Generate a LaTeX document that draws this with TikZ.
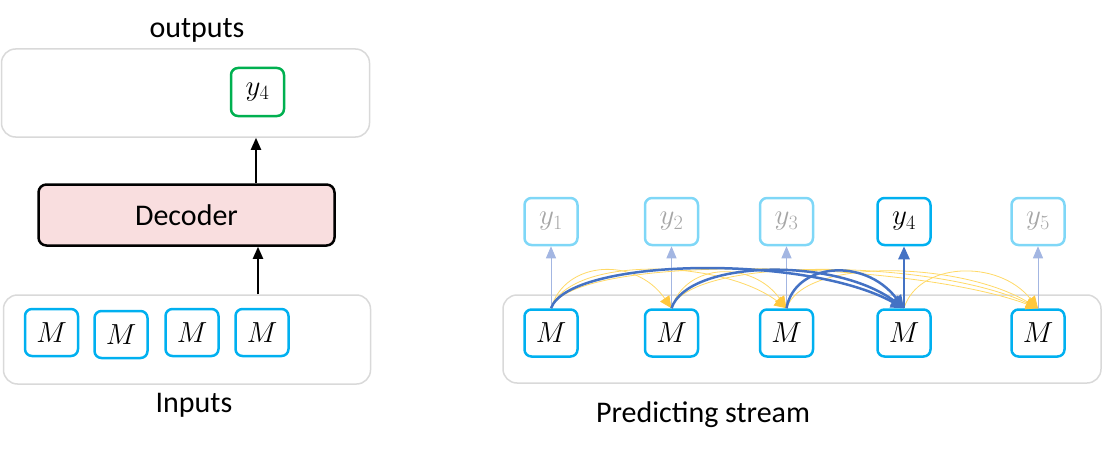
\RequirePackage{fix-cm}
\documentclass[tikz,border=0pt]{standalone}
\usepackage{fontspec}
\setmainfont{Carlito}
\usetikzlibrary{arrows.meta}
\definecolor{boxgray}{HTML}{D9D9D9}
\definecolor{mblue}{HTML}{00B0F0}
\definecolor{lightcyan}{HTML}{7FD7F7}
\definecolor{txtgray}{HTML}{A6A6A6}
\definecolor{paleblue}{HTML}{A3B6E2}
\definecolor{strongblue}{HTML}{4472C4}
\definecolor{yelline}{HTML}{FFD966}
\definecolor{yelhead}{HTML}{FFC83D}
\definecolor{decfill}{HTML}{F9DEDF}
\definecolor{ygreen}{HTML}{00B050}
\tikzset{
  x=1pt, y=1pt,
  container/.style={draw=boxgray, line width=1.5pt, rounded corners=14pt, inner sep=0pt},
  mathfont/.style={font=\fontsize{29}{32}\selectfont},
  mbox/.style={draw=mblue, line width=2.5pt, rounded corners=7pt, minimum width=53pt, minimum height=47pt, inner sep=0pt, mathfont},
  ylight/.style={draw=lightcyan, line width=2.5pt, rounded corners=7pt, minimum width=53pt, minimum height=47pt, inner sep=0pt, text=txtgray, mathfont},
  label/.style={font=\fontsize{30}{34}\selectfont, inner sep=0pt},
  blackarrow/.style={line width=2pt, -{Triangle[length=12pt,width=10pt]}},
  palearrow/.style={draw=paleblue, line width=1pt, -{Triangle[length=12pt,width=10pt]}},
  boldarrow/.style={draw=strongblue, line width=2.5pt, -{Triangle[length=13pt,width=11pt]}},
  yelarrow/.style={draw=yelline, line width=0.8pt, -{Triangle[length=12pt,width=11pt,fill=yelhead,color=yelhead]}},
  bluecurve/.style={draw=strongblue, line width=2.5pt, -{Triangle[length=13pt,width=12pt]}},
}
\begin{document}
\begin{tikzpicture}
\useasboundingbox (0,0) rectangle (1103,-452);
% ---------- left part ----------
\node[label] (outlbl) at (197,-30) {outputs};
\node[container, minimum width=368pt, minimum height=88pt] (outbox) at (185.5,-93) {};
\node[draw=ygreen, line width=2.5pt, rounded corners=7pt, minimum width=53pt, minimum height=48pt, inner sep=0pt, mathfont] (ly4) at (257.5,-92) {$y_4$};
\node[draw=black, line width=2.5pt, fill=decfill, rounded corners=8pt, minimum width=296pt, minimum height=61pt, label] (dec) at (186.5,-215) {Decoder};
\node[container, minimum width=367pt, minimum height=89pt] (inbox) at (187,-339.5) {};
\node[mbox] (lm1) at (51.5,-332.5) {$M$};
\node[mbox] (lm2) at (121,-334.5) {$M$};
\node[mbox] (lm3) at (192,-332.5) {$M$};
\node[mbox] (lm4) at (262,-332.5) {$M$};
\node[label] (inlbl) at (194,-405) {Inputs};
\coordinate (upx) at (256,0);
\coordinate (inx) at (258,0);
\draw[blackarrow] (dec.north -| upx) -- (outbox.south -| upx);
\draw[blackarrow] (inbox.north -| inx) -- (dec.south -| inx);
% ---------- right part ----------
\node[container, minimum width=598pt, minimum height=88pt] (stream) at (802,-339) {};
\node[label] (slbl) at (703,-415) {Predicting stream};
\node[mbox] (m1) at (551,-333) {$M$};
\node[mbox] (m2) at (671.5,-333) {$M$};
\node[mbox] (m3) at (786.5,-333) {$M$};
\node[mbox] (m4) at (904,-333) {$M$};
\node[mbox] (m5) at (1038,-333) {$M$};
\node[ylight] (y1) at (551,-221.5) {$y_1$};
\node[ylight] (y2) at (671.5,-221.5) {$y_2$};
\node[ylight] (y3) at (786.5,-221.5) {$y_3$};
\node[mbox] (y4) at (904,-221.5) {$y_4$};
\node[ylight] (y5) at (1038,-221.5) {$y_5$};
\draw[palearrow] (m1.north) -- (y1.south);
\draw[palearrow] (m2.north) -- (y2.south);
\draw[palearrow] (m3.north) -- (y3.south);
\draw[palearrow] (m5.north) -- (y5.south);
% yellow attention curves
\draw[yelarrow] (m1.north) .. controls +(14,48) and +(-36,52) .. (m2.north);
\draw[yelarrow] (m1.north) .. controls +(18,52) and +(-66,50) .. (m3.north);
\draw[yelarrow] (m1.north) .. controls +(22,56) and +(-130,48) .. (m5.north);
\draw[yelarrow] (m2.north) .. controls +(14,46) and +(-34,48) .. (m3.north);
\draw[yelarrow] (m2.north) .. controls +(20,54) and +(-100,48) .. (m5.north);
\draw[yelarrow] (m3.north) .. controls +(18,52) and +(-76,46) .. (m5.north);
\draw[yelarrow] (m4.north) .. controls +(14,46) and +(-40,50) .. (m5.north);
% bold blue curves
\draw[bluecurve] (m1.north) .. controls +(18,50) and +(-100,55) .. (m4.north);
\draw[bluecurve] (m2.north) .. controls +(16,48) and +(-70,52) .. (m4.north);
\draw[bluecurve] (m3.north) .. controls +(8,45) and +(-40,52) .. (m4.north);
\draw[boldarrow] (m4.north) -- (y4.south);
\end{tikzpicture}
\end{document}
